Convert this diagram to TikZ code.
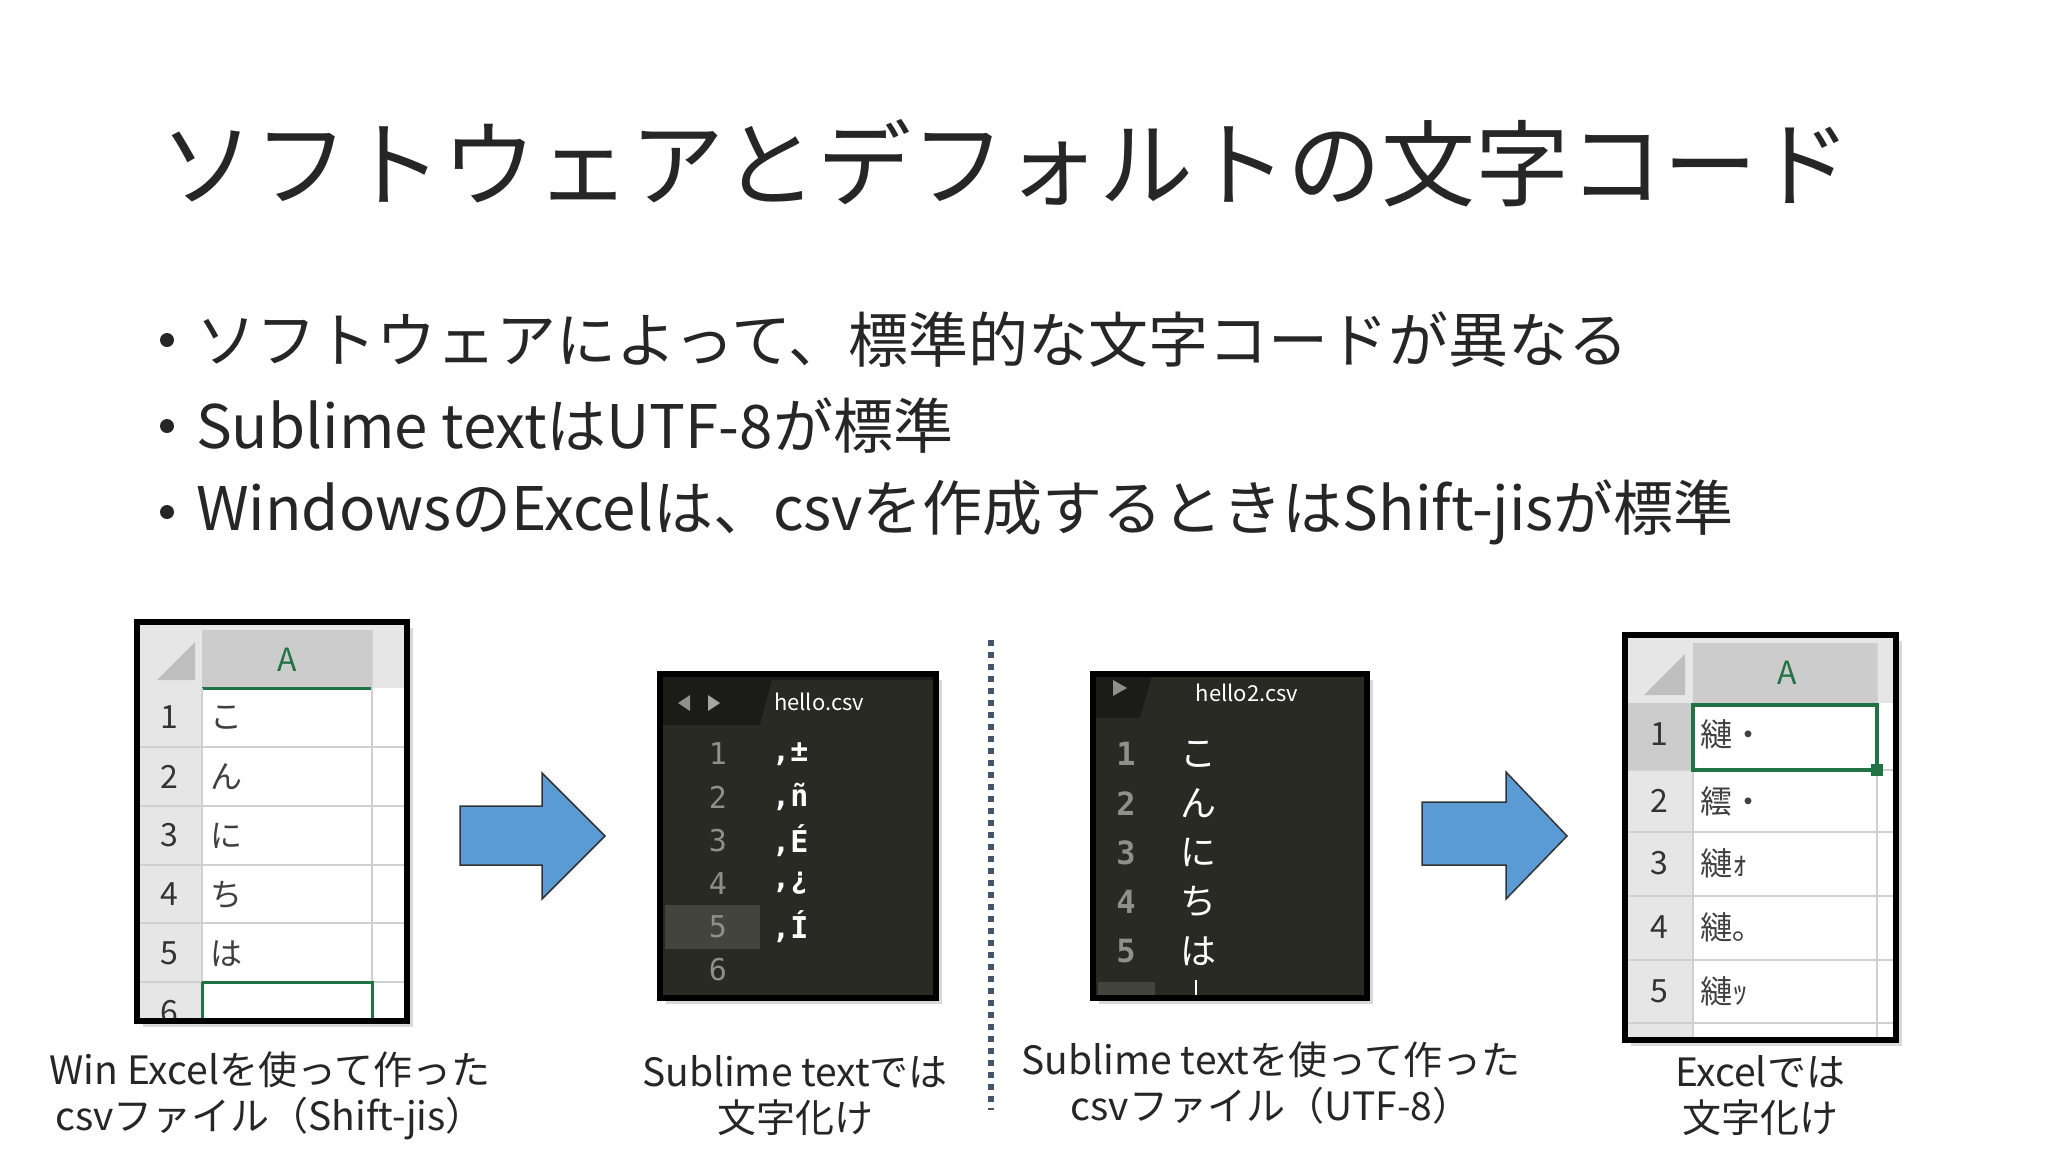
\documentclass[tikz,border=0pt]{standalone}
\usepackage{fontspec}
\setmainfont{Noto Sans CJK JP}
\newfontfamily\jp{Noto Sans CJK JP}
\newfontfamily\mono{DejaVu Sans Mono}
\definecolor{arrowblue}{HTML}{5B9BD5}
\definecolor{subbg}{HTML}{2A2A25}
\definecolor{subtab}{HTML}{1B1B18}
\definecolor{exgray}{HTML}{E6E6E6}
\definecolor{exgrid}{HTML}{D0D0D0}
\definecolor{exgreen}{HTML}{217346}
\definecolor{numgray}{HTML}{8F908A}
\definecolor{dashc}{HTML}{44546A}
\tikzset{
  txt/.style={inner sep=0pt, text=black!85},
  captext/.style={txt, font=\fontsize{39}{46}\selectfont, align=center},
  bul/.style={txt, anchor=west, font=\fontsize{60}{64}\selectfont},
  bigarrow/.style={fill=arrowblue, draw=black!80, line width=1.5pt},
  exnum/.style={inner sep=0pt, font=\fontsize{32}{34}\selectfont, text=black!80},
  excell/.style={inner sep=0pt, anchor=west, font=\fontsize{32}{34}\selectfont, text=black!75},
  subnum/.style={inner sep=0pt, font=\mono\fontsize{30}{32}\selectfont, text=numgray},
  subtxt/.style={inner sep=0pt, anchor=west, font=\fontsize{32}{34}\selectfont, text=white},
}
\begin{document}
\begin{tikzpicture}[x=1pt,y=-1pt]
\useasboundingbox[fill=white] (0,0) rectangle (2048,1152);
% title
\node[txt, font=\fontsize{94}{100}\selectfont] (title) at (1006,163) {ソフトウェアとデフォルトの文字コード};
% bullets
\node[bul] (b1) at (196,340) {ソフトウェアによって、標準的な文字コードが異なる};
\node[bul] (b2) at (196,426) {Sublime textはUTF-8が標準};
\node[bul] (b3) at (196,512) {WindowsのExcelは、csvを作成するときはShift-jisが標準};
\foreach \yy in {340,426,512} \fill[black!85] (167,\yy) circle (7);
% ---------- left excel ----------
\fill[black!15] (143,628) rectangle (413,1027);
\fill[white] (137,622) rectangle (407,1021);
\fill[exgray] (137,622) rectangle (407,688);
\fill[exgray] (137,688) rectangle (202,1021);
\fill[black!25] (157,680) -- (195,680) -- (195,642) -- cycle;
\fill[black!20] (202,630) rectangle (372,688);
\node[inner sep=0pt, font=\fontsize{32}{34}\selectfont, text=exgreen] (la) at (287,660) {A};
\draw[exgreen, line width=3pt] (202,688) -- (372,688);
\foreach \yy in {747,806,865,923,982} \draw[exgrid, line width=2pt] (137,\yy) -- (407,\yy);
\draw[exgrid, line width=2pt] (202,688) -- (202,1021);
\draw[exgrid, line width=2pt] (372,630) -- (372,1021);
\foreach \n/\c [count=\i] in {1/こ,2/ん,3/に,4/ち,5/は} {
  \node[exnum] (ln\i) at (169,688+59*\i-29.5) {\n};
  \node[excell] (lc\i) at (210,688+59*\i-29.5) {\c};
}
\begin{scope}
\clip (137,622) rectangle (407,1018);
\node[exnum] (ln6) at (169,1012) {6};
\end{scope}
\draw[exgreen, line width=3pt] (202,982) -- (372,982) -- (372,1018) (202,982) -- (202,1018);
\draw[black, line width=6pt] (137,622) rectangle (407,1021);
% arrow 1
\draw[bigarrow] (460,806) -- (542,806) -- (542,773) -- (605,836) -- (542,899) -- (542,865) -- (460,865) -- cycle;
% ---------- sublime 1 ----------
\fill[black!15] (666,680) rectangle (942,1004);
\fill[subbg] (660,674) rectangle (936,998);
\fill[subtab] (660,674) rectangle (936,725);
\fill[subbg] (760,725) -- (772,680) -- (936,680) -- (936,725) -- cycle;
\fill[numgray] (690,695) -- (678,703) -- (690,711) -- cycle;
\fill[numgray!80] (708,695) -- (720,703) -- (708,711) -- cycle;
\node[inner sep=0pt, font=\fontsize{22}{24}\selectfont, text=white] (f1) at (819,702) {hello.csv};
\fill[white!12!subbg] (665,905) rectangle (760,949);
\foreach \c [count=\i] in {{,±},{,ñ},{,É},{,¿},{,Í}} {
  \node[subnum] (sn\i) at (718,754+43.2*\i-43.2) {\i};
  \node[subtxt, font=\mono\bfseries\fontsize{30}{32}\selectfont] (sc\i) at (772,754+43.2*\i-43.2) {\c};
}
\node[subnum] (sn6) at (718,970) {6};
\draw[black, line width=6pt] (660,674) rectangle (936,998);
% dotted separator
\coordinate (dtop) at (991,640);
\coordinate (dbot) at (991,1110);
\draw[dashc, line width=6pt, dash pattern=on 6pt off 6pt] (dtop) -- (dbot);
% ---------- sublime 2 ----------
\fill[black!15] (1099,680) rectangle (1373,1004);
\fill[subbg] (1093,674) rectangle (1367,998);
\fill[subtab] (1093,674) rectangle (1367,718);
\fill[subbg] (1140,718) -- (1152,676) -- (1367,676) -- (1367,718) -- cycle;
\fill[numgray] (1113,680) -- (1127,688) -- (1113,696) -- cycle;
\node[inner sep=0pt, font=\fontsize{22}{24}\selectfont, text=white] (f2) at (1247,693) {hello2.csv};
\begin{scope}
\clip (1093,674) rectangle (1367,995);
\fill[white!12!subbg] (1098,982) rectangle (1155,998);
\draw[white, line width=1.5pt] (1196,980) -- (1196,998);
\end{scope}
\foreach \c [count=\i] in {こ,ん,に,ち,は} {
  \node[subnum, font=\mono\bfseries\fontsize{32}{34}\selectfont] (tn\i) at (1126,754+49.2*\i-49.2) {\i};
  \node[subtxt, font=\fontsize{36}{38}\selectfont] (tc\i) at (1180,754+49.2*\i-49.2) {\c};
}
\draw[black, line width=6pt] (1093,674) rectangle (1367,998);
% arrow 2
\draw[bigarrow] (1422,802) -- (1506,802) -- (1506,772) -- (1567,836) -- (1506,899) -- (1506,865) -- (1422,865) -- cycle;
% ---------- right excel ----------
\fill[black!15] (1631,641) rectangle (1902,1046);
\fill[white] (1625,635) rectangle (1896,1040);
\fill[exgray] (1625,635) rectangle (1896,703);
\fill[exgray] (1625,703) rectangle (1693,1040);
\fill[black!25] (1644,695) -- (1685,695) -- (1685,654) -- cycle;
\fill[black!20] (1693,643) rectangle (1877,703);
\fill[black!20] (1625,703) rectangle (1693,770);
\node[inner sep=0pt, font=\fontsize{32}{34}\selectfont, text=exgreen] (ra) at (1787,673) {A};
\foreach \yy in {770,832,896,960,1023} \draw[exgrid, line width=2pt] (1625,\yy) -- (1896,\yy);
\draw[exgrid, line width=2pt] (1693,703) -- (1693,1040);
\draw[exgrid, line width=2pt] (1877,643) -- (1877,1040);
\foreach \c/\ya [count=\i] in {{縺・}/703,{繧・}/770,{縺ｫ}/832,{縺｡}/896,{縺ｯ}/960} {
  \node[exnum] (rn\i) at (1659,\ya+31) {\i};
  \node[excell] (rc\i) at (1700,\ya+31) {\c};
}
\draw[exgreen, line width=4pt] (1693,705) rectangle (1877,770);
\fill[exgreen] (1871,764) rectangle (1883,776);
\draw[black, line width=6pt] (1625,635) rectangle (1896,1040);
% captions
\node[captext] (c1) at (270,1096) {Win Excelを使って作った\\csvファイル（Shift-jis）};
\node[captext] (c2) at (795,1096) {Sublime textでは\\文字化け};
\node[captext] (c3) at (1271,1083) {Sublime textを使って作った\\csvファイル（UTF-8）};
\node[captext] (c4) at (1760,1096) {Excelでは\\文字化け};
\end{tikzpicture}
\end{document}
